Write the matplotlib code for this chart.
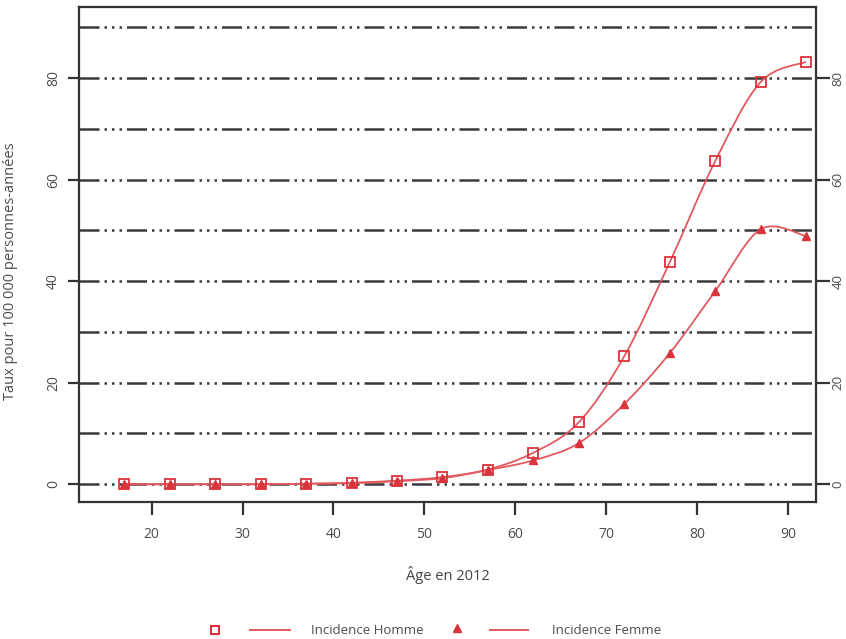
import numpy as np
import matplotlib.pyplot as plt
from matplotlib.path import Path
from matplotlib.patches import PathPatch
from matplotlib.lines import Line2D

plt.rcParams['font.family'] = ['Open Sans', 'DejaVu Sans']

ages = [17, 22, 27, 32, 37, 42, 47, 52, 57, 62, 67, 72, 77, 82, 87, 92]
homme = [0, 0, 0, 0, 0.1, 0.3, 0.7, 1.4, 2.9, 6.2, 12.2, 25.2, 43.7, 63.6, 79.2, 83.2]
femme = [0, 0, 0, 0, 0.1, 0.2, 0.6, 1.2, 2.8, 4.7, 8.1, 15.8, 25.8, 38.0, 50.2, 48.9]

red = '#d9343c'
line_red = '#e25a5f'
grid_col = '#3a3a3a'
txt = '#4d4d4d'


def smooth_path(x, y):
    # Catmull-Rom curve through the points, drawn as cubic bezier segments
    p = np.column_stack([x, y]).astype(float)
    verts = [p[0]]
    codes = [Path.MOVETO]
    n = len(p)
    for i in range(n - 1):
        p0 = p[i - 1] if i > 0 else p[i]
        p3 = p[i + 2] if i + 2 < n else p[i + 1]
        c1 = p[i] + (p[i + 1] - p0) / 6
        c2 = p[i + 1] - (p3 - p[i]) / 6
        verts += [c1, c2, p[i + 1]]
        codes += [Path.CURVE4] * 3
    return Path(verts, codes)


fig = plt.figure(figsize=(8.46, 6.39), dpi=100)
ax = fig.add_axes([0.0934, 0.2144, 0.8711, 0.7746])
ax.set_xlim(12, 93.1)
ax.set_ylim(-3.5, 94)

# dash-dot-dot-dot grid
for g in range(0, 100, 10):
    ax.axhline(g, color=grid_col, lw=1.8, dashes=(8, 2, 1, 2, 1, 2, 1, 2), zorder=1)

for vals in (homme, femme):
    ax.add_patch(PathPatch(smooth_path(ages, vals), fill=False, edgecolor=line_red, lw=1.3, zorder=3))

ax.plot(ages, femme, ls='none', marker='^', ms=6, color=red, mec=red, zorder=4)
ax.plot(ages, homme, ls='none', marker='s', ms=6.5, mfc='none', mec=red, mew=1.3, zorder=5)

for s in ax.spines.values():
    s.set_color('#333333')
    s.set_linewidth(1.6)

yt = range(0, 100, 20)
ax.set_xticks(range(20, 100, 10))
ax.set_yticks(yt)
ax.tick_params(axis='x', length=9, width=1.6, color='#333333', labelsize=10, labelcolor=txt, pad=9)
ax.tick_params(axis='y', length=8, width=1.6, color='#333333', labelsize=10, labelcolor=txt, pad=5)
for lab in ax.get_yticklabels():
    lab.set_rotation(90)
    lab.set_va('center')

# right-hand axis repeats the rate ticks
ax2 = ax.twinx()
ax2.set_ylim(ax.get_ylim())
ax2.set_yticks(yt)
ax2.tick_params(axis='y', length=10, width=1.6, color='#333333', labelsize=9.5, labelcolor=txt, pad=1)
for lab in ax2.get_yticklabels():
    lab.set_rotation(90)
    lab.set_va('center')
for s in ax2.spines.values():
    s.set_visible(False)

ax.set_xlabel('Âge en 2012', fontsize=10.5, color='#444444', labelpad=17)
ax.set_ylabel('Taux pour 100 000 personnes-années', fontsize=10.5, color=txt)
ax.yaxis.set_label_coords(-0.083, 0.467)

# legend row along the bottom
fig.add_artist(Line2D([0.254], [0.014], marker='s', ms=6, mfc='none', mec=red, mew=1.5, ls='none'))
fig.add_artist(Line2D([0.295, 0.343], [0.014, 0.014], color=line_red, lw=1.4))
fig.text(0.368, 0.014, 'Incidence Homme', fontsize=9.5, color=txt, va='center')
fig.add_artist(Line2D([0.540], [0.017], marker='^', ms=5.5, color=red, ls='none'))
fig.add_artist(Line2D([0.579, 0.624], [0.014, 0.014], color=line_red, lw=1.4))
fig.text(0.652, 0.014, 'Incidence Femme', fontsize=9.5, color=txt, va='center')

fig.savefig('out.png', dpi=100)
